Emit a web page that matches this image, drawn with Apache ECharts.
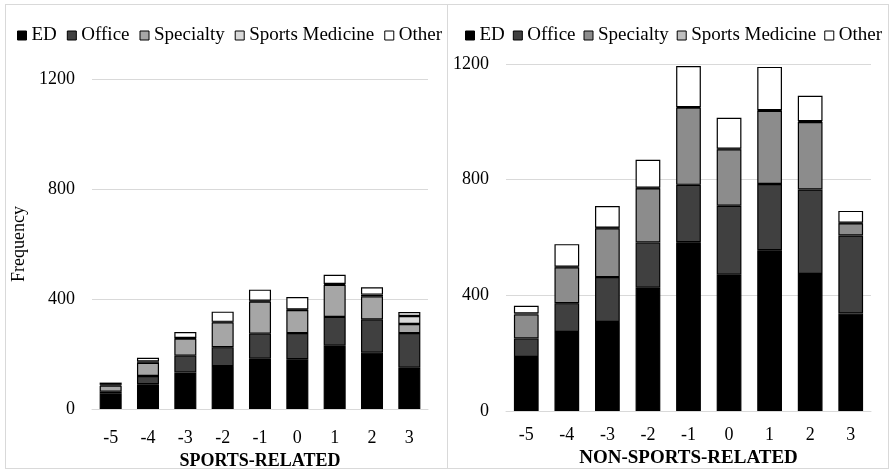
<!DOCTYPE html>
<html>
<head>
<meta charset="utf-8">
<script src="https://cdn.jsdelivr.net/npm/echarts@6/dist/echarts.min.js"></script>
<style>
html,body{margin:0;padding:0;background:#fff;width:893px;height:469px;overflow:hidden;}
.panel{position:absolute;box-sizing:border-box;border:1px solid #d9d9d9;}
#left{left:5px;top:4px;width:443px;height:465px;}
#right{left:447px;top:4px;width:442px;height:465px;}
</style>
</head>
<body>
<div id="left" class="panel"></div>
<div id="right" class="panel"></div>
<script>
const categories = ['-5','-4','-3','-2','-1','0','1','2','3'];
const seriesNames = ['ED','Office','Specialty','Sports Medicine','Other'];
const yTicks = [0, 400, 800, 1200];

const leftED        = [57, 90, 133, 156, 183, 181, 230, 205, 150];
const leftOffice    = [6, 30, 61, 69, 91, 95, 105, 121, 126];
const leftSpecialty = [22, 48, 62, 90, 117, 84, 117, 84, 33];
const leftSportsMed = [3, 5, 2, 2, 3, 2, 3, 6, 29];
const leftOther     = [8, 13, 22, 37, 40, 45, 33, 27, 15];

const rightED        = [187, 273, 308, 426, 584, 471, 556, 474, 337];
const rightOffice    = [64, 100, 155, 157, 198, 239, 229, 292, 270];
const rightSpecialty = [83, 124, 169, 187, 267, 195, 253, 233, 42];
const rightSportsMed = [3, 2, 2, 2, 2, 2, 2, 3, 2];
const rightOther     = [27, 78, 75, 97, 142, 107, 150, 88, 41];

const leftXTitle = 'SPORTS-RELATED';
const rightXTitle = 'NON-SPORTS-RELATED';
const leftYTitle = 'Frequency';

const FONT = "'Liberation Serif','Times New Roman',serif";

function buildOption(cfg) {
  const dataSets = cfg.data;
  const legendText = {fontFamily: FONT, fontSize: 19, color: '#000'};
  return {
    animation: false,
    textStyle: {fontFamily: FONT},
    legend: {
      data: seriesNames.map((n, i) => ({
        name: n,
        itemStyle: {color: cfg.colors[i], borderColor: '#000', borderWidth: 1},
        textStyle: legendText
      })),
      left: cfg.legendLeft, top: 21, padding: 0,
      icon: 'rect', itemWidth: 9, itemHeight: 9, itemGap: cfg.legendGap,
      textStyle: legendText
    },
    grid: Object.assign({containLabel: false, outerBoundsMode: 'none'}, cfg.grid),
    xAxis: {
      type: 'category', data: categories,
      axisLine: {lineStyle: {color: '#d9d9d9', width: 1}},
      axisTick: {show: false},
      axisLabel: {fontFamily: FONT, fontSize: 18, color: '#000', margin: cfg.xLabelMargin},
      name: cfg.xTitle, nameLocation: 'middle', nameGap: cfg.xNameGap,
      nameTextStyle: {fontFamily: FONT, fontSize: cfg.xTitleSize, fontWeight: 'bold', color: '#000'}
    },
    yAxis: {
      type: 'value', min: yTicks[0], max: yTicks[yTicks.length - 1], interval: yTicks[1] - yTicks[0],
      axisLine: {show: false}, axisTick: {show: false},
      splitLine: {lineStyle: {color: '#d9d9d9', width: 1}},
      axisLabel: {fontFamily: FONT, fontSize: 18, color: '#000', margin: 17, formatter: v => String(v)},
      name: cfg.yTitle || '', nameLocation: 'middle', nameGap: 63,
      nameTextStyle: {fontFamily: FONT, fontSize: 18, color: '#000'}
    },
    series: seriesNames.map((n, i) => ({
      name: n, type: 'bar', stack: 'total', data: dataSets[i],
      barWidth: cfg.barWidth,
      itemStyle: {color: cfg.colors[i], borderColor: '#000', borderWidth: 1.2}
    }))
  };
}

const leftChart = echarts.init(document.getElementById('left'), null, {renderer: 'canvas'});
leftChart.setOption(buildOption({
  data: [leftED, leftOffice, leftSpecialty, leftSportsMed, leftOther],
  colors: ['#000000', '#404040', '#a6a6a6', '#d9d9d9', '#ffffff'],
  grid: {left: 86, right: 19, top: 74, bottom: 59},
  legendLeft: 11, legendGap: 10,
  barWidth: '59%',
  xLabelMargin: 20, xNameGap: 41, xTitleSize: 18,
  xTitle: leftXTitle, yTitle: leftYTitle
}));

const rightChart = echarts.init(document.getElementById('right'), null, {renderer: 'canvas'});
rightChart.setOption(buildOption({
  data: [rightED, rightOffice, rightSpecialty, rightSportsMed, rightOther],
  colors: ['#000000', '#404040', '#8c8c8c', '#bfbfbf', '#ffffff'],
  grid: {left: 58, right: 17, top: 59, bottom: 57},
  legendLeft: 17, legendGap: 8,
  barWidth: '61%',
  xLabelMargin: 15, xNameGap: 35, xTitleSize: 19,
  xTitle: rightXTitle
}));
</script>
</body>
</html>
